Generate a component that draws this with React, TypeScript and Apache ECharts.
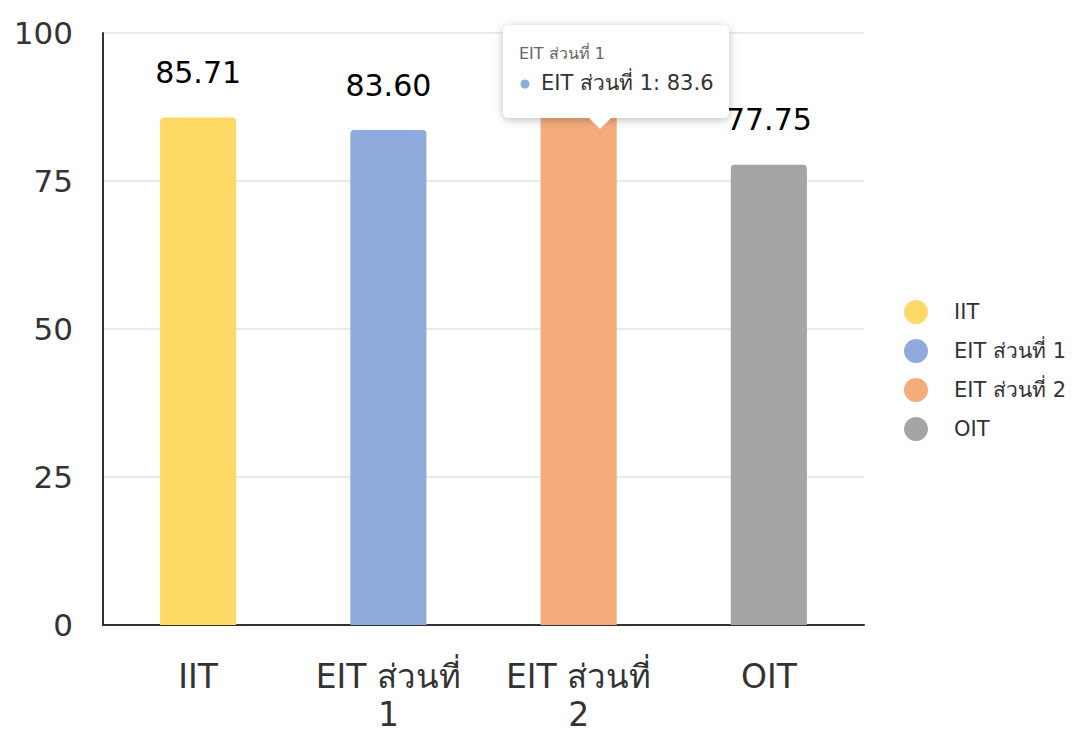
import React, { useEffect, useRef } from "react";
import * as echarts from "echarts";

const categories = ["IIT", "EIT ส่วนที่ 1", "EIT ส่วนที่ 2", "OIT"];
const values = [85.71, 83.6, 87.5, 77.75];
const colors = ["#FFD966", "#8FAADC", "#F4AC7A", "#A5A5A5"];
const showValueLabel = [true, true, false, true];
const yTicks = [0, 25, 50, 75, 100];
const tooltipTitle = "EIT ส่วนที่ 1";
const tooltipRow = "EIT ส่วนที่ 1: 83.6";

const FONT = "'DejaVu Sans', 'Noto Sans', sans-serif";

export default function App() {
  const ref = useRef<HTMLDivElement>(null);
  useEffect(() => {
    if (!ref.current) return;
    const chart = echarts.init(ref.current, undefined, { renderer: "svg" });
    const series = categories.map((name, i) => ({
      name,
      type: "bar",
      stack: "all",
      barWidth: "40%",
      data: categories.map((_, j) => (j === i ? values[i] : null)),
      itemStyle: { color: colors[i], borderRadius: [4, 4, 0, 0] },
      label: {
        show: showValueLabel[i],
        position: "top",
        distance: 30,
        fontSize: 30,
        color: "#000",
        fontFamily: FONT,
        formatter: (p: any) => Number(p.value).toFixed(2),
      },
    }));
    chart.setOption({
      animation: false,
      textStyle: { fontFamily: FONT },
      grid: {
        left: 103,
        right: 212,
        top: 33,
        bottom: 108,
        containLabel: false,
        outerBoundsMode: "none",
      },
      legend: {
        orient: "vertical",
        left: 899,
        top: 295,
        icon: "circle",
        itemWidth: 24,
        itemHeight: 24,
        itemGap: 15,
        data: categories,
        textStyle: { fontSize: 21, color: "#333", fontFamily: FONT, padding: [0, 0, 0, 21] },
      },
      xAxis: {
        type: "category",
        data: categories,
        axisTick: { show: false },
        axisLine: { lineStyle: { color: "#333", width: 2 } },
        axisLabel: {
          fontSize: 33,
          color: "#333",
          margin: 32,
          lineHeight: 38,
          interval: 0,
          fontFamily: FONT,
          formatter: (v: string) => v.replace(/ (\d)$/, "\n$1"),
        },
      },
      yAxis: {
        type: "value",
        min: yTicks[0],
        max: yTicks[yTicks.length - 1],
        interval: 25,
        axisLine: { show: true, lineStyle: { color: "#333", width: 2 } },
        axisTick: { show: false },
        splitLine: { lineStyle: { color: "#e3e3e3", width: 1.5 } },
        axisLabel: { fontSize: 31, color: "#333", margin: 30, fontFamily: FONT },
      },
      series,
      graphic: [
        {
          type: "group",
          z: 100,
          children: [
            {
              type: "rect",
              z: 100,
              shape: { x: 503, y: 25, width: 226, height: 93, r: 6 },
              style: {
                fill: "#fff",
                shadowBlur: 10,
                shadowColor: "rgba(0,0,0,0.25)",
                shadowOffsetY: 2,
              },
            },
            {
              type: "polygon",
              z: 101,
              shape: { points: [[588, 117], [612, 117], [600, 129]] },
              style: { fill: "#fff" },
            },
            {
              type: "text",
              z: 102,
              x: 519,
              y: 53,
              style: {
                text: tooltipTitle,
                fontSize: 16,
                fill: "#666",
                fontFamily: FONT,
                verticalAlign: "middle",
              },
            },
            {
              type: "circle",
              z: 102,
              shape: { cx: 525, cy: 84, r: 4.5 },
              style: { fill: colors[1] },
            },
            {
              type: "text",
              z: 102,
              x: 541,
              y: 83,
              style: {
                text: tooltipRow,
                fontSize: 21,
                fill: "#333",
                fontFamily: FONT,
                verticalAlign: "middle",
              },
            },
          ],
        },
      ],
    });
    return () => chart.dispose();
  }, []);
  return (
    <div
      ref={ref}
      style={{ position: "absolute", left: 0, top: 0, width: 1076, height: 733, background: "#fff" }}
    />
  );
}
